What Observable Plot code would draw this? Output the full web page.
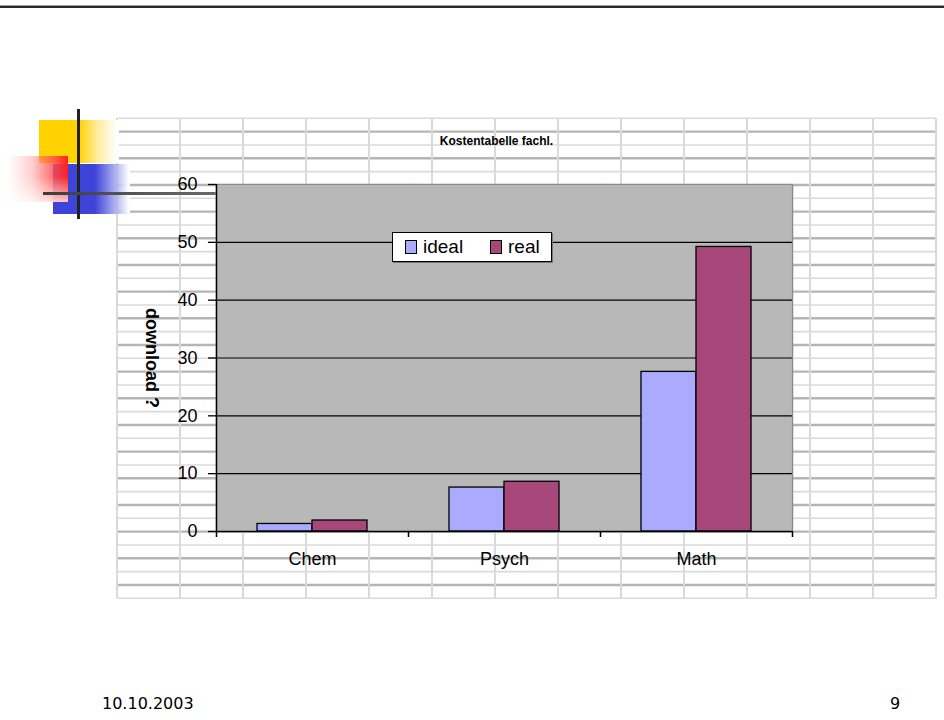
<!DOCTYPE html>
<html>
<head>
<meta charset="utf-8">
<script src="https://cdn.jsdelivr.net/npm/d3@7"></script>
<script src="https://cdn.jsdelivr.net/npm/@observablehq/plot@0.6"></script>
<style>
  html, body { margin: 0; padding: 0; background: #fff; }
  #page { position: relative; width: 944px; height: 720px; overflow: hidden; background: #fff; font-family: "Liberation Sans", Arial, sans-serif; }
  .abs { position: absolute; }
</style>
</head>
<body>
<div id="page">
  <div class="abs" style="left:0;top:5px;width:944px;height:1px;background:#9a9a9a"></div>
  <div class="abs" style="left:0;top:6px;width:944px;height:2px;background:#2a2a2a"></div>
  <svg id="sheet" class="abs" style="left:0;top:0" width="944" height="720"></svg>
  <div id="chart" class="abs" style="left:0;top:0"></div>

  <!-- slide decoration -->
  <div class="abs" style="left:39px;top:120px;width:80px;height:43px;background:linear-gradient(to right,#FFD200 0,#FFD200 40px,rgba(255,222,90,0.6) 58px,rgba(255,255,255,1) 78px)"></div>
  <div class="abs" style="left:53px;top:164px;width:77px;height:50px;background:linear-gradient(to right,#3F44D8 0,#3F44D8 42px,rgba(90,95,225,0.7) 56px,rgba(255,255,255,1) 76px)"></div>
  <div class="abs" style="left:8px;top:156px;width:60px;height:46px;background:linear-gradient(to left,rgba(255,30,30,1) 0,rgba(255,70,70,0.85) 20%,rgba(255,150,150,0.45) 60%,rgba(255,255,255,0.9) 100%)"></div>
  <div class="abs" style="left:8px;top:156px;width:60px;height:46px;background:linear-gradient(to bottom,rgba(255,255,255,0) 0,rgba(255,255,255,0) 45%,rgba(255,255,255,0.75) 100%)"></div>
  <div class="abs" style="left:77px;top:109px;width:3px;height:110px;background:#222"></div>
  <div class="abs" style="left:43px;top:192px;width:173px;height:3px;background:linear-gradient(to right,#3c3c3c,#5a5a5a 60%,#6a6a6a)"></div>

  <div class="abs" style="left:340px;top:134px;width:313px;text-align:center;font:bold 12px 'Liberation Sans',Arial,sans-serif;color:#000">Kostentabelle fachl.</div>

  <div id="legend" class="abs" style="left:392px;top:232px;width:158px;height:28px;background:#fff;border:1px solid #000;box-shadow:1px 1px 0 #777;font:19px 'Liberation Sans',Arial,sans-serif;color:#000"></div>

  <div class="abs" style="left:102px;top:694px;font:16px 'DejaVu Sans',sans-serif;color:#000">10.10.2003</div>
  <div class="abs" style="left:890px;top:694px;font:16px 'DejaVu Sans',sans-serif;color:#000">9</div>
</div>
<script>
// ---- data ----
const categories = ["Chem", "Psych", "Math"];
const seriesNames = ["ideal", "real"];
const idealValues = [1.3, 7.6, 27.6];
const realValues = [1.9, 8.6, 49.2];
const yTicks = [0, 10, 20, 30, 40, 50, 60];
const gridValues = [10, 20, 30, 40, 50];
const seriesColors = ["#AAAAFF", "#A8477A"];
const yLabel = "download ?";

const rows = categories.flatMap((c, i) => [
  {cat: c, series: seriesNames[0], value: idealValues[i]},
  {cat: c, series: seriesNames[1], value: realValues[i]}
]);

// ---- spreadsheet background (decoration) ----
(function drawSheet() {
  const svg = d3.select("#sheet");
  const x0 = 117, x1 = 936, y0 = 118.3, rowH = 13.333, nRows = 36, colW = 63;
  const g = svg.append("g");
  for (let j = 0; j <= nRows; j++) {
    const y = y0 + j * rowH;
    g.append("line").attr("x1", x0).attr("x2", x1).attr("y1", y).attr("y2", y)
      .attr("stroke", j % 2 ? "#b5b5b5" : "#dadada").attr("stroke-width", j % 2 ? 2.4 : 1.6);
  }
  for (let x = x0; x <= x1; x += colW) {
    g.append("line").attr("x1", x).attr("x2", x).attr("y1", y0).attr("y2", y0 + nRows * rowH)
      .attr("stroke", "#dadada").attr("stroke-width", 2);
  }
})();

// ---- chart ----
const W = 944, H = 720, mL = 216, mR = 152, mT = 184, mB = 189;
const facetW = (W - mL - mR) / categories.length;

const chart = Plot.plot({
  width: W,
  height: H,
  marginLeft: mL,
  marginRight: mR,
  marginTop: mT,
  marginBottom: mB,
  style: {background: "transparent", fontFamily: "'Liberation Sans', Arial, sans-serif", fontSize: "18px", color: "#000"},
  fx: {domain: categories, padding: 0},
  x: {domain: seriesNames, paddingInner: 0, paddingOuter: 0.74, axis: null},
  y: {domain: [0, 60], axis: null},
  color: {domain: seriesNames, range: seriesColors},
  marks: [
    Plot.frame({fill: "#B8B8B8", stroke: "#B8B8B8", strokeWidth: 1.5}),
    Plot.ruleY(gridValues, {stroke: "#000", strokeWidth: 1.2}),
    Plot.ruleY([60], {stroke: "#8a8a8a", strokeWidth: 1.2}),
    Plot.ruleX(["Math"], {fx: d => d, x: null, dx: facetW / 2, y1: 0, y2: 60, stroke: "#8a8a8a", strokeWidth: 1.2}),
    Plot.barY(rows, {fx: "cat", x: "series", y: "value", fill: "series", stroke: "#000", strokeWidth: 1.3}),
    Plot.ruleY([0], {stroke: "#000", strokeWidth: 1.6}),
    Plot.ruleX(["Chem"], {fx: d => d, x: null, dx: -facetW / 2, y1: 0, y2: 60, stroke: "#000", strokeWidth: 1.5}),
    Plot.ruleX(categories, {fx: d => d, x: null, dx: -facetW / 2, y1: 0, y2: 0, insetBottom: -6, stroke: "#000", strokeWidth: 1.5}),
    Plot.ruleX(["Math"], {fx: d => d, x: null, dx: facetW / 2, y1: 0, y2: 0, insetBottom: -6, stroke: "#000", strokeWidth: 1.5}),
    Plot.axisY({ticks: yTicks, tickSize: 8, tickPadding: 11, fontSize: 18, label: null, stroke: "#000", strokeWidth: 1.3}),
    Plot.axisFx({anchor: "bottom", tickSize: 0, tickPadding: 21, fontSize: 18, label: null}),
    Plot.text([yLabel], {fx: () => categories[0], text: d => d, frameAnchor: "left", textAnchor: "middle", rotate: 90, dx: -65, fontSize: 18, fontWeight: "bold", letterSpacing: "1.5px"})
  ]
});
document.getElementById("chart").appendChild(chart);

// ---- legend (HTML) ----
const legend = d3.select("#legend");
seriesNames.forEach((s, i) => {
  const item = legend.append("div")
    .style("position", "absolute").style("top", "2px")
    .style("left", (i === 0 ? 12 : 97) + "px")
    .style("display", "flex").style("align-items", "center").style("height", "24px");
  item.append("span")
    .style("display", "inline-block").style("width", "10px").style("height", "12px")
    .style("background", seriesColors[i]).style("border", "1px solid #000")
    .style("margin-right", "6px");
  item.append("span").text(s);
});
</script>
</body>
</html>
